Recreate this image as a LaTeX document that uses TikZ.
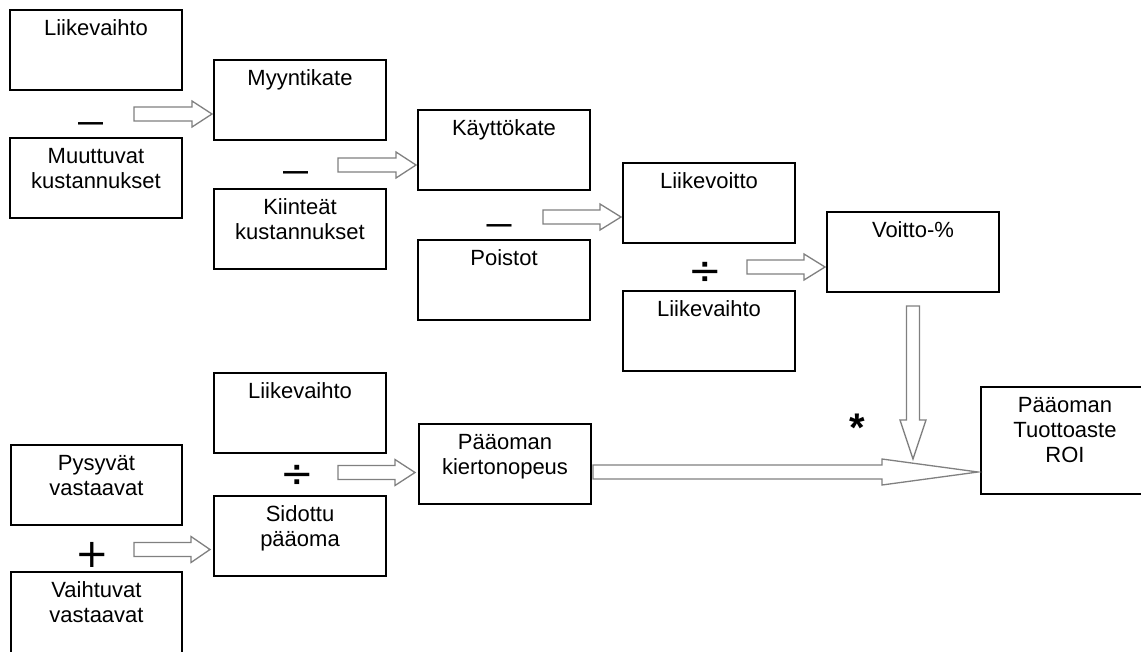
\documentclass[tikz,border=0pt]{standalone}
\usepackage{fontspec}
\setmainfont{Liberation Sans}
\newfontfamily\djv{DejaVu Sans}
\usetikzlibrary{calc}
\newcommand\fst{\rule{0pt}{25pt}}
\newcommand\blockh[3]{\draw[barrow] ($(#1)+(0,-7)$) -- ($(#2)+(-#3,-7)$) -- ($(#2)+(-#3,-13)$) -- (#2) -- ($(#2)+(-#3,13)$) -- ($(#2)+(-#3,7)$) -- ($(#1)+(0,7)$) -- cycle;}
\newcommand\blockv[3]{\draw[barrow] ($(#1)+(-6.5,0)$) -- ($(#2)+(-6.5,-#3)$) -- ($(#2)+(-13,-#3)$) -- (#2) -- ($(#2)+(13,-#3)$) -- ($(#2)+(6.5,-#3)$) -- ($(#1)+(6.5,0)$) -- cycle;}
\begin{document}
\begin{tikzpicture}[x=1pt,y=-1pt,
  box/.style={draw=black, line width=1.4pt, anchor=north west, inner sep=0pt, outer sep=0pt, minimum width=172pt, minimum height=80pt},
  lbl/.style={anchor=north, inner sep=0pt, align=center, font=\fontsize{22}{25}\selectfont},
  barrow/.style={draw=black!50, line width=1.3pt, fill=white, line join=miter},
  minus/.style={anchor=base, inner sep=0pt, font=\bfseries\fontsize{25}{25}\selectfont},
  opsym/.style={anchor=base, inner sep=0pt, font=\djv\fontsize{40}{40}\selectfont},
  starsym/.style={anchor=base, inner sep=0pt, font=\bfseries\fontsize{40}{40}\selectfont}]
\useasboundingbox (0,0) rectangle (1141,651);
\fill[white] (0,0) rectangle (1141,651);
\begin{scope}
\clip (0,0) rectangle (1141,651);
% boxes
\node[box] (b1) at (10,10) {};
\node[box] (b2) at (10,138) {};
\node[box] (b3) at (214,60) {};
\node[box] (b4) at (214,189) {};
\node[box] (b5) at (418,110) {};
\node[box] (b6) at (418,240) {};
\node[box] (b7) at (623,163) {};
\node[box] (b8) at (623,291) {};
\node[box] (b9) at (827,212) {};
\node[box, minimum width=168pt, minimum height=107pt] (b10) at (981,387) {};
\node[box] (b11) at (214,373) {};
\node[box, minimum width=171pt] (b12) at (11,445) {};
\node[box] (b13) at (214,496) {};
\node[box] (b14) at (419,424) {};
\node[box, minimum width=171pt, minimum height=100pt] (b15) at (11,572) {};
% texts
\node[lbl] (t1) at (b1.north) {\fst Liikevaihto};
\node[lbl] (t2) at (b2.north) {\fst Muuttuvat\\kustannukset};
\node[lbl] (t3) at (b3.north) {\fst Myyntikate};
\node[lbl] (t4) at (b4.north) {\fst Kiinteät\\kustannukset};
\node[lbl] (t5) at (b5.north) {\fst Käyttökate};
\node[lbl] (t6) at (b6.north) {\fst Poistot};
\node[lbl] (t7) at (b7.north) {\fst Liikevoitto};
\node[lbl] (t8) at (b8.north) {\fst Liikevaihto};
\node[lbl] (t9) at (b9.north) {\fst Voitto-\%};
\node[lbl] (t10) at (b10.north) {\fst Pääoman\\Tuottoaste\\ROI};
\node[lbl] (t11) at (b11.north) {\fst Liikevaihto};
\node[lbl] (t12) at (b12.north) {\fst Pysyvät\\vastaavat};
\node[lbl] (t13) at (b13.north) {\fst Sidottu\\pääoma};
\node[lbl] (t14) at (b14.north) {\fst Pääoman\\kiertonopeus};
\node[lbl] (t15) at (b15.north) {\fst Vaihtuvat\\vastaavat};
% operators
\node[minus] (m1) at (90.5,130) {—};
\node[minus] (m2) at (295.5,179) {—};
\node[minus] (m3) at (499,232) {—};
\node[opsym] (d1) at (705,284) {÷};
\node[opsym] (d2) at (297,487) {÷};
\node[opsym] (p1) at (92.5,567) {+};
\node[starsym] (s1) at (857,441) {*};
% block arrows
\coordinate (a1s) at (134,114);
\coordinate (a1e) at ($(b3.west |- a1s)+(-2,0)$);
\coordinate (a2s) at (338,165);
\coordinate (a2e) at ($(b5.west |- a2s)+(-2,0)$);
\coordinate (a3s) at (543,217);
\coordinate (a3e) at ($(b7.west |- a3s)+(-2,0)$);
\coordinate (a4s) at (747,267);
\coordinate (a4e) at ($(b9.west |- a4s)+(-2,0)$);
\coordinate (a5s) at ($(b9.south)+(0,14)$);
\coordinate (a5e) at ($(a5s)+(0,153)$);
\coordinate (a6s) at (593,472);
\coordinate (a6e) at ($(b10.west |- a6s)+(-3,0)$);
\coordinate (a7s) at (338,472.5);
\coordinate (a7e) at ($(b14.west |- a7s)+(-4,0)$);
\coordinate (a8s) at (134,549.5);
\coordinate (a8e) at ($(b13.west |- a8s)+(-4,0)$);
\blockh{a1s}{a1e}{20}
\blockh{a2s}{a2e}{20}
\blockh{a3s}{a3e}{21}
\blockh{a4s}{a4e}{21}
\blockv{a5s}{a5e}{39}
\blockh{a6s}{a6e}{96}
\blockh{a7s}{a7e}{20}
\blockh{a8s}{a8e}{19}
\end{scope}
\end{tikzpicture}
\end{document}
